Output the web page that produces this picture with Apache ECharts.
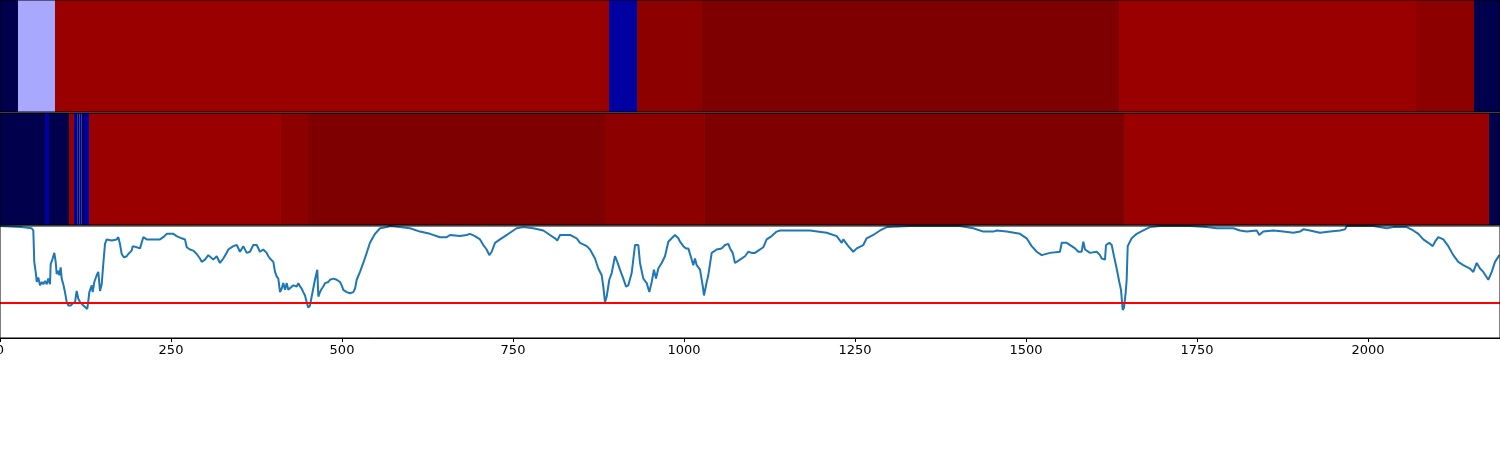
<!DOCTYPE html>
<html><head><meta charset="utf-8">
<script src="https://cdn.jsdelivr.net/npm/echarts@6/dist/echarts.min.js"></script>
<style>html,body{margin:0;padding:0;background:#fff;}#chart{width:1500px;height:450px;}</style>
</head><body><div id="chart"></div>
<script>
// ---------- data ----------
const X_MAX = 2193;
const xTickStep = 250;

// top heat row: segment edges and seismic-scale values (0 = deep blue, 0.5 = white, 1 = deep red)
const topRowEdges  = [0, 26.3, 80.4, 890.4, 931.3, 1024.9, 1636, 2070.2, 2155, 2193];
const topRowValues = [0, 0.415, 0.948, 0.117, 0.975, 1.0, 0.948, 0.975, 0];

// middle heat row
const midRowEdges  = [0, 65.8, 71.6, 100.9, 108.2, 113.6, 116.2, 119.4, 122.8, 130.1, 410.8, 450.3, 884.5, 1029.3, 1643.3, 2176.9, 2193];
const midRowValues = [0, 0.117, 0, 0.948, 0.117, 0, 0.117, 0, 0.117, 0.948, 0.975, 1.0, 0.975, 1.0, 0.948, 0];

// bottom line
const lineX = [0,31.7,46.3,48.7,50.1,52.6,53.7,56.0,58.5,61.0,63.3,65.8,68.3,70.6,73.1,74.1,77.0,79.4,81.4,82.9,85.2,86.7,88.7,90.2,92.5,95.0,97.5,99.9,103.4,106.3,109.7,112.1,114.5,117.0,119.4,121.8,124.3,127.6,129.1,130.6,134.1,135.5,137.9,141.4,143.7,146.2,148.7,151.0,153.5,156.0,158.3,163.3,165.6,170.6,173.0,175.4,177.9,181.3,185.2,187.6,192.5,194.0,199.9,202.2,204.7,207.2,209.5,212.0,214.5,224.1,233.9,238.7,243.7,253.4,258.3,265.6,270.5,273.0,277.8,282.6,287.6,292.4,294.9,299.7,304.5,307.0,311.8,316.8,319.2,321.6,326.5,331.4,333.8,341.1,346.1,348.4,350.9,355.7,360.7,365.5,370.3,375.3,380.1,384.9,389.9,392.3,394.7,399.6,402.1,404.5,406.9,409.4,411.8,414.2,416.7,419.2,421.5,424.0,428.8,433.8,436.1,438.6,441.1,443.4,445.9,448.4,450.7,453.2,455.7,460.5,463.9,465.4,467.8,470.3,472.7,475.2,480.0,482.5,487.3,492.3,497.1,499.6,501.9,506.9,511.7,516.5,519.0,521.5,526.3,531.1,536.1,540.9,548.3,555.6,565.3,570.2,584.8,599.4,614.0,628.7,643.3,653.1,657.9,672.5,682.3,687.1,694.5,701.8,706.6,711.5,715.4,718.9,723.7,731.0,738.3,745.6,755.4,765.1,779.7,794.3,804.1,811.4,814.8,818.7,833.3,843.1,848.0,857.8,862.6,869.9,874.7,879.7,882.0,884.5,887.0,890.8,894.3,899.1,902.5,906.4,911.3,915.2,918.6,923.5,928.4,933.2,935.7,940.5,945.5,949.3,952.8,956.1,959.1,962.4,967.4,972.2,977.1,982.0,986.9,991.7,994.2,996.6,999.0,1002.9,1006.3,1009.8,1013.6,1016.1,1018.6,1023.4,1027.3,1029.2,1033.2,1035.5,1040.5,1047.8,1055.1,1060.0,1064.8,1067.3,1071.2,1074.6,1081.9,1089.2,1094.0,1099.0,1103.8,1108.6,1115.9,1120.9,1128.2,1135.5,1140.4,1159.8,1184.2,1208.6,1223.3,1230.6,1232.9,1240.2,1247.5,1252.5,1262.1,1267.1,1276.8,1286.6,1296.4,1330.4,1403.5,1423.0,1437.6,1452.2,1457.2,1471.8,1491.2,1501.0,1508.3,1515.7,1523.0,1535.1,1549.7,1552.2,1559.5,1566.8,1571.7,1576.5,1581.4,1583.8,1586.3,1593.6,1603.4,1608.2,1610.7,1615.5,1617.0,1621.8,1625.3,1628.7,1632.6,1636.4,1638.9,1641.4,1643.3,1645.8,1647.2,1648.7,1654.5,1661.9,1671.5,1681.3,1695.9,1739.8,1764.2,1778.8,1803.1,1812.9,1822.7,1837.3,1841.1,1846.9,1861.6,1876.2,1890.8,1900.6,1905.4,1915.2,1929.8,1944.5,1959.1,1966.4,1968.9,2007.8,2027.4,2037.0,2056.6,2066.2,2073.6,2080.9,2088.2,2094.6,2098.0,2102.8,2110.1,2117.4,2124.7,2132.0,2139.3,2149.1,2154.0,2158.9,2163.8,2168.6,2175.9,2180.9,2185.7,2192.0];
const lineY = [1.00,0.99,0.98,0.96,0.68,0.57,0.50,0.54,0.47,0.50,0.48,0.51,0.48,0.53,0.48,0.66,0.71,0.76,0.68,0.57,0.60,0.56,0.63,0.53,0.48,0.41,0.32,0.29,0.29,0.31,0.32,0.42,0.35,0.32,0.33,0.29,0.29,0.26,0.33,0.41,0.47,0.41,0.50,0.56,0.59,0.42,0.48,0.66,0.84,0.88,0.87,0.87,0.88,0.88,0.90,0.84,0.75,0.72,0.73,0.75,0.78,0.82,0.81,0.82,0.80,0.81,0.90,0.91,0.88,0.88,0.88,0.90,0.93,0.93,0.91,0.89,0.88,0.81,0.79,0.78,0.75,0.71,0.68,0.70,0.74,0.73,0.70,0.73,0.74,0.67,0.71,0.76,0.79,0.82,0.83,0.82,0.77,0.82,0.76,0.77,0.83,0.83,0.77,0.79,0.76,0.73,0.71,0.68,0.59,0.55,0.53,0.41,0.44,0.49,0.43,0.49,0.43,0.43,0.47,0.46,0.49,0.46,0.44,0.41,0.38,0.32,0.27,0.29,0.37,0.52,0.61,0.37,0.41,0.44,0.46,0.49,0.50,0.52,0.53,0.52,0.50,0.47,0.43,0.41,0.40,0.41,0.44,0.52,0.59,0.67,0.76,0.85,0.93,0.98,0.99,1.00,0.99,0.98,0.95,0.93,0.90,0.90,0.92,0.91,0.92,0.93,0.91,0.88,0.83,0.79,0.74,0.77,0.85,0.88,0.91,0.94,0.98,0.99,0.98,0.96,0.92,0.89,0.87,0.92,0.92,0.89,0.85,0.82,0.79,0.71,0.62,0.56,0.46,0.32,0.37,0.52,0.58,0.73,0.68,0.61,0.53,0.46,0.47,0.58,0.83,0.83,0.67,0.53,0.49,0.41,0.50,0.61,0.53,0.62,0.67,0.73,0.86,0.89,0.92,0.89,0.86,0.85,0.82,0.80,0.80,0.73,0.65,0.71,0.65,0.61,0.47,0.38,0.50,0.56,0.76,0.79,0.80,0.83,0.84,0.80,0.76,0.67,0.70,0.73,0.77,0.76,0.76,0.78,0.81,0.88,0.91,0.95,0.96,0.96,0.96,0.94,0.91,0.85,0.88,0.82,0.77,0.80,0.83,0.89,0.92,0.96,0.99,1.00,1.00,0.98,0.95,0.95,0.96,0.95,0.93,0.89,0.82,0.77,0.74,0.76,0.77,0.85,0.85,0.82,0.80,0.77,0.77,0.86,0.79,0.76,0.77,0.74,0.71,0.70,0.83,0.85,0.83,0.73,0.62,0.50,0.43,0.25,0.27,0.41,0.52,0.82,0.89,0.93,0.96,0.99,1.00,1.00,0.99,0.98,0.98,0.96,0.95,0.96,0.92,0.95,0.96,0.95,0.94,0.95,0.97,0.96,0.94,0.95,0.96,0.97,1.00,1.00,0.98,0.99,0.99,0.96,0.93,0.88,0.85,0.82,0.86,0.90,0.88,0.82,0.74,0.68,0.65,0.62,0.59,0.67,0.62,0.59,0.52,0.59,0.68,0.74];
const threshold = 0.3125;

// ---------- build ----------
function segs(edges, vals) {
  return vals.map((v, i) => [edges[i], edges[i + 1], v]);
}
function renderSeg(params, api) {
  const p0 = api.coord([api.value(0), 1]);
  const p1 = api.coord([api.value(1), 0]);
  return {
    type: 'rect',
    shape: { x: p0[0], y: p0[1], width: p1[0] - p0[0], height: p1[1] - p0[1] },
    style: { fill: api.visual('color') }
  };
}
const lineData = lineX.map((x, i) => [x, lineY[i]]);

const gridBase = { left: 0, right: 0, height: 112, show: true, borderColor: '#000', borderWidth: 1,
  backgroundColor: 'transparent', z: 5, containLabel: false, outerBoundsMode: 'none' };
const hiddenX = gi => ({ type: 'value', gridIndex: gi, min: 0, max: X_MAX, show: false });
const hiddenY = gi => ({ type: 'value', gridIndex: gi, min: 0, max: 1, show: false });

const chart = echarts.init(document.getElementById('chart'), null, { renderer: 'canvas' });
chart.setOption({
  animation: false,
  backgroundColor: '#fff',
  grid: [
    Object.assign({ top: 0 }, gridBase),
    Object.assign({ top: 113 }, gridBase),
    Object.assign({ top: 226 }, gridBase)
  ],
  xAxis: [
    hiddenX(0), hiddenX(1),
    {
      type: 'value', gridIndex: 2, min: 0, max: X_MAX, interval: xTickStep,
      axisLine: { show: true, lineStyle: { color: '#000', width: 1 } },
      axisTick: { show: true, length: 4, lineStyle: { color: '#000' } },
      splitLine: { show: false },
      axisLabel: {
        showMaxLabel: false, margin: 6, color: '#000', fontSize: 13, fontFamily: 'DejaVu Sans',
        formatter: v => (v % xTickStep === 0 ? String(v) : '')
      }
    }
  ],
  yAxis: [hiddenY(0), hiddenY(1), hiddenY(2)],
  visualMap: {
    show: false, type: 'continuous', min: 0, max: 1, dimension: 2, seriesIndex: [0, 1],
    inRange: { color: ['#00004c', '#0000ff', '#ffffff', '#ff0000', '#7f0000'] }
  },
  series: [
    { type: 'custom', xAxisIndex: 0, yAxisIndex: 0, renderItem: renderSeg, encode: { x: [0, 1] }, data: segs(topRowEdges, topRowValues) },
    { type: 'custom', xAxisIndex: 1, yAxisIndex: 1, renderItem: renderSeg, encode: { x: [0, 1] }, data: segs(midRowEdges, midRowValues) },
    { type: 'line', xAxisIndex: 2, yAxisIndex: 2, data: lineData, showSymbol: false, symbol: 'none',
      lineStyle: { color: '#1f77b4', width: 2 }, z: 3 },
    { type: 'line', xAxisIndex: 2, yAxisIndex: 2, data: [[0, threshold], [X_MAX, threshold]], showSymbol: false, symbol: 'none',
      lineStyle: { color: '#ff0000', width: 2 }, z: 4 }
  ]
});
</script></body></html>
